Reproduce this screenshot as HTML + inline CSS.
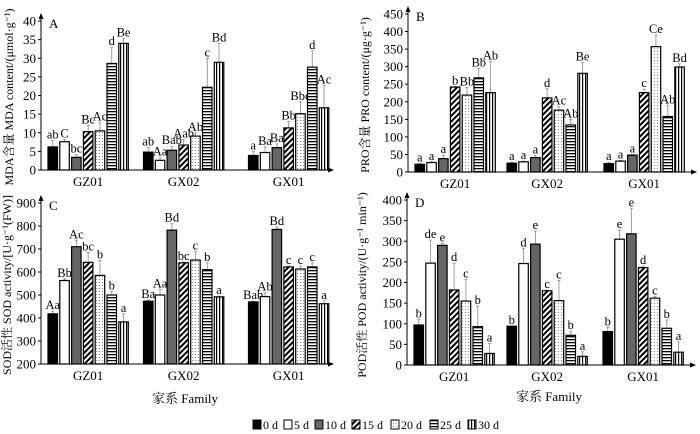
<!DOCTYPE html>
<html><head><meta charset="utf-8"><style>
body{margin:0;background:#fff;}
svg{display:block;}
text{font-family:"Liberation Serif","Noto Serif CJK SC",serif;}
</style></head><body>
<svg id="chart" width="700" height="434" viewBox="0 0 700 434">
<defs>
<pattern id="p15" patternUnits="userSpaceOnUse" width="4" height="4" patternTransform="rotate(45)"><rect width="4" height="4" fill="#fff"/><rect width="2" height="4" fill="#000"/></pattern>
<pattern id="p20" patternUnits="userSpaceOnUse" width="3" height="3"><rect width="3" height="3" fill="#fff"/><rect width="1" height="1" fill="#888"/></pattern>
<pattern id="p25" patternUnits="userSpaceOnUse" width="4" height="3"><rect width="4" height="3" fill="#fff"/><rect width="4" height="1.3" fill="#000"/></pattern>
<pattern id="p30" patternUnits="userSpaceOnUse" width="3" height="4"><rect width="3" height="4" fill="#fff"/><rect width="1.2" height="4" fill="#000"/></pattern>
</defs>
<g id="root"></g>
</svg>
<script>
const families = ["GZ01","GX02","GX01"];
const seriesNames = ["0 d","5 d","10 d","15 d","20 d","25 d","30 d"];
const fills = ["#000","#fff","#666","url(#p15)","url(#p20)","url(#p25)","url(#p30)"];

const mdaValues = [[6.2,7.6,3.4,10.3,10.5,28.6,34],[4.8,2.6,5.3,6.7,9.1,22.2,28.9],[3.9,4.7,6.0,11.3,15.1,27.6,16.7]];
const mdaErr = [[7.9,8.2,4.1,12,12.7,33,35.3],[6,3.3,6.4,8.2,10,30,34],[5,6.2,7,13,18.3,32,22.7]];
const mdaLabels = [["ab","C","bc","Bc","Ac","d","Be"],["ab","Aa","Bab","Aab","Ab","c","Bd"],["a","Ba","Ba","Bb","Bbc","d","Ac"]];
const mdaTicks = [0,5,10,15,20,25,30,35,40];

const proValues = [[22,27,38,242,219,268,226],[25,29,41,211,176,134,281],[24,31,48,226,357,158,299]];
const proErr = [[24,29,48,244,240,295,315],[28,31,47,237,186,150,312],[28,33,50,236,390,190,308]];
const proLabels = [["a","a","a","b","Bb","Bb","Ab"],["a","a","a","d","Ac","Ab","Be"],["a","a","a","c","Ce","Ab","Bd"]];
const proTicks = [0,50,100,150,200,250,300,350,400,450];

const sodValues = [[418,563,710,642,585,500,383],[473,500,782,640,652,610,492],[470,493,785,622,613,622,462]];
const sodErr = [[430,570,738,685,650,515,418],[478,525,810,643,690,640,495],[473,510,795,626,627,640,475]];
const sodLabels = [["Aa","Bb","Ac","bc","b","b","a"],["Ba","Aa","Bd","bc","c","b","a"],["Bab","Ab","Bd","c","c","c","a"]];
const sodTicks = [200,300,400,500,600,700,800,900];

const podValues = [[97,247,290,182,155,93,28],[94,246,293,180,156,72,21],[81,305,318,236,162,89,31]];
const podErr = [[110,303,295,247,207,143,52],[95,283,325,182,205,82,32],[91,327,380,240,166,109,56]];
const podLabels = [["b","de","e","d","c","b","a"],["b","d","e","c","c","b","a"],["b","e","e","d","c","b","a"]];
const podTicks = [0,50,100,150,200,250,300,350,400];

const NS="http://www.w3.org/2000/svg";
const root=document.getElementById('root');
function el(tag,attrs,parent,text){const e=document.createElementNS(NS,tag);for(const k in attrs)e.setAttribute(k,attrs[k]);if(text!==undefined)e.textContent=text;(parent||root).appendChild(e);return e;}

function panel(cfg){
  const g=el('g',{});
  
  
  const ymin=cfg.ticks[0], ymax=cfg.ticks[cfg.ticks.length-1];
  const y=v=>cfg.base-(v-ymin)/(ymax-ymin)*(cfg.base-cfg.top);
  const ya=el('line',{x1:cfg.x0,y1:cfg.base,x2:cfg.x0,y2:cfg.top-5,stroke:'#000','stroke-width':1},g);
  
  
  el('path',{d:`M${cfg.x0-2.5},${cfg.top-2} L${cfg.x0},${cfg.top-8} L${cfg.x0+2.5},${cfg.top-2}Z`,fill:'#000'},g);
  const xa=el('line',{x1:cfg.x0,y1:cfg.base,x2:cfg.xEnd,y2:cfg.base,stroke:'#000','stroke-width':1},g);
  
  
  el('path',{d:`M${cfg.xEnd},${cfg.base-2.5} L${cfg.xEnd+6},${cfg.base} L${cfg.xEnd},${cfg.base+2.5}Z`,fill:'#000'},g);
  cfg.ticks.forEach(t=>{
    el('line',{x1:cfg.x0-3,y1:y(t),x2:cfg.x0,y2:y(t),stroke:'#000'},g);
    const tl=el('text',{x:cfg.x0-5,y:y(t)+4.5,'text-anchor':'end','font-size':13},g,String(t));
    
    
  });
  const pl=el('text',{x:cfg.x0+8,y:cfg.top+7,'font-size':13},g,cfg.letter);
  
  
  const tt=el('text',{x:0,y:0,'text-anchor':'middle','font-size':12,transform:`translate(${cfg.titleX},${cfg.titleY}) rotate(-90)`},g,cfg.title);
  
  
  const pitch=11.8,bw=9.5;
  families.forEach((f,gi)=>{
    const gs=cfg.starts[gi];
    cfg.values[gi].forEach((v,si)=>{
      const bx=gs+si*pitch;
      const ey=y(cfg.err[gi][si]);
      const el1=el('line',{x1:bx+bw/2,y1:y(v),x2:bx+bw/2,y2:ey,stroke:'#888','stroke-width':0.8},g);
      
      
      el('line',{x1:bx+bw/2-1.5,y1:ey,x2:bx+bw/2+1.5,y2:ey,stroke:'#888','stroke-width':0.8},g);
      const r=el('rect',{x:bx,y:y(v),width:bw,height:cfg.base-y(v),fill:fills[si],stroke:'#000','stroke-width':1.2},g);
      
      
      const lb=el('text',{x:bx+bw/2,y:ey-2,'text-anchor':'middle','font-size':12.5},g,cfg.labels[gi][si]);
      
      
    });
    const cx=gs+(6*pitch+bw)/2;
    const xl=el('text',{x:cx,y:cfg.base+16,'text-anchor':'middle','font-size':13},g,f);
    
    
  });
}

panel({name:'panel-a-mda',letter:'A',x0:41,base:170,top:21,xEnd:328,starts:[48,143.5,248.5],ticks:mdaTicks,values:mdaValues,err:mdaErr,labels:mdaLabels,title:'MDA含量 MDA content/(μmol·g⁻¹)',titleX:13,titleY:97});
panel({name:'panel-b-pro',letter:'B',x0:408,base:172,top:14,xEnd:691,starts:[415,507,604],ticks:proTicks,values:proValues,err:proErr,labels:proLabels,title:'PRO含量 PRO content/(μg·g⁻¹)',titleX:369,titleY:95});
panel({name:'panel-c-sod',letter:'C',x0:41,base:364,top:203,xEnd:328,starts:[48,143.5,248.5],ticks:sodTicks,values:sodValues,err:sodErr,labels:sodLabels,title:'SOD活性 SOD activity/[U·g⁻¹(FW)]',titleX:11,titleY:285});
panel({name:'panel-d-pod',letter:'D',x0:407,base:365,top:200,xEnd:690,starts:[414,507,603],ticks:podTicks,values:podValues,err:podErr,labels:podLabels,title:'POD活性 POD activity/(U·g⁻¹ min⁻¹)',titleX:366,titleY:285});

const xt1=el('text',{x:185,y:403,'text-anchor':'middle','font-size':13},root,'家系  Family');


const xt2=el('text',{x:549,y:401,'text-anchor':'middle','font-size':13},root,'家系  Family');



const legend=el('g',{});


const legX=[253,284,315,352,391,430,468];
seriesNames.forEach((s,i)=>{
  const lg=el('g',{},legend);
  
  
  el('rect',{x:legX[i],y:420,width:8,height:9,fill:fills[i],stroke:'#000','stroke-width':1},lg);
  el('text',{x:legX[i]+10,y:429,'font-size':12},lg,s);
});
</script>
</body></html>
